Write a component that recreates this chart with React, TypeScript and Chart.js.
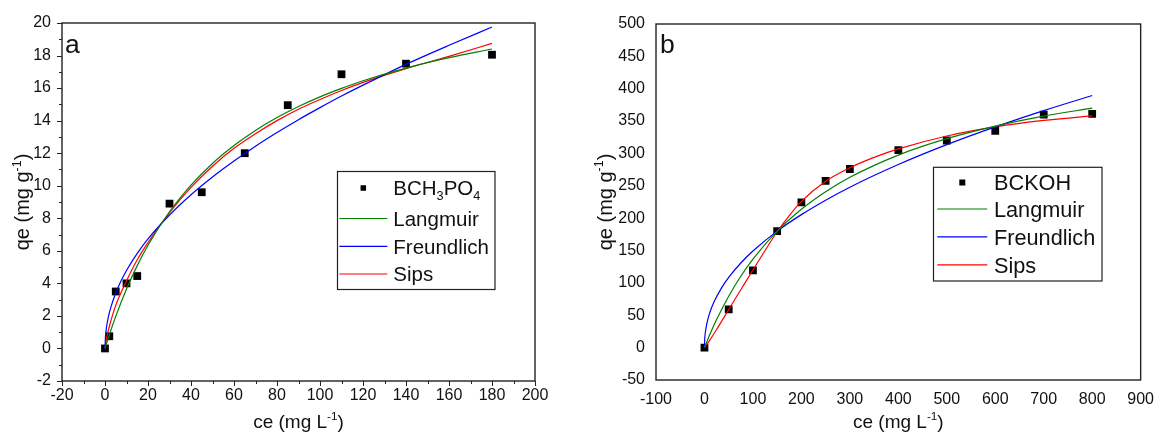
import React, { useEffect, useRef } from 'react';
import { Chart, registerables } from 'chart.js';

Chart.register(...registerables);

const FONT = '"Liberation Sans", Arial, Helvetica, sans-serif';
const GREEN = '#008000';
const BLUE = '#0000ff';
const RED = '#ff0000';
const INK = '#111111';

// ---------------- Panel a (BCH3PO4) ----------------
const A_X_RANGE = [-20, 200, 20, 10]; // min, max, major step, minor step
const A_Y_RANGE = [-2, 20, 2, 1];
const A_CE = [0, 2, 5, 10, 15, 30, 45, 65, 85, 110, 140, 180];
const A_QE = [0, 0.75, 3.5, 4.0, 4.45, 8.9, 9.6, 12.0, 14.95, 16.85, 17.5, 18.05];
const A_LANG_X = [0, 2, 5, 10, 15, 20, 30, 40, 50, 60, 70, 80, 90, 100, 110, 120, 140, 160, 180];
const A_LANG_Y = [0, 0.83, 1.97, 3.65, 5.09, 6.34, 8.4, 10.04, 11.37, 12.47, 13.4, 14.19, 14.87, 15.46, 15.98, 16.45, 17.23, 17.87, 18.4];
const A_FREU_X = [0, 0.2, 0.5, 1, 2, 3, 5, 7.5, 10, 15, 20, 30, 40, 50, 60, 70, 80, 90, 100, 110, 120, 140, 160, 180];
const A_FREU_Y = [0, 0.7, 1.1, 1.55, 2.18, 2.65, 3.41, 4.16, 4.79, 5.84, 6.73, 8.2, 9.45, 10.54, 11.52, 12.43, 13.27, 14.06, 14.8, 15.51, 16.18, 17.46, 18.63, 19.75];
const A_SIPS_X = [0, 1, 2, 5, 10, 15, 20, 30, 40, 50, 60, 70, 80, 90, 100, 110, 120, 140, 160, 180];
const A_SIPS_Y = [0, 0.8, 1.35, 2.65, 4.15, 5.45, 6.5, 8.35, 9.9, 11.2, 12.3, 13.2, 14.0, 14.7, 15.3, 15.85, 16.35, 17.2, 17.95, 18.75];

// ---------------- Panel b (BCKOH) ----------------
const B_X_RANGE = [-100, 900, 100, 50];
const B_Y_RANGE = [-50, 500, 50, 25];
const B_CE = [0, 50, 100, 150, 200, 250, 300, 400, 500, 600, 700, 800];
const B_QE = [0, 59, 119.5, 180, 224.5, 257.5, 276, 305, 320, 335, 360, 361];
const B_LANG_X = [0, 10, 25, 50, 75, 100, 150, 200, 250, 300, 400, 500, 600, 700, 800];
const B_LANG_Y = [0, 18.3, 43.3, 79.5, 110.3, 136.8, 180, 213.8, 240.9, 263.2, 297.5, 322.8, 342.2, 357.6, 370];
const B_FREU_X = [0, 0.5, 1, 2, 5, 10, 20, 35, 50, 75, 100, 150, 200, 250, 300, 400, 500, 600, 700, 800];
const B_FREU_Y = [0, 13, 17.9, 24.6, 37.5, 51.7, 71.1, 92, 108.5, 130.8, 149.3, 180, 205.5, 227.8, 247.9, 282.9, 313.6, 341, 366.2, 389.5];
const B_SIPS_X = [0, 10, 25, 50, 75, 100, 125, 150, 175, 200, 250, 300, 350, 400, 500, 600, 700, 800];
const B_SIPS_Y = [0, 10.5, 28, 59, 89.5, 120, 150, 179, 204, 226, 257, 278, 294, 307, 327, 341, 351, 358];

// ---------------- Text ----------------
type Seg = { t: string; s?: 'sub' | 'sup' };
const MODEL_NAMES = ['Langmuir', 'Freundlich', 'Sips'];
const MODEL_COLORS = [GREEN, BLUE, RED];
const A_SAMPLE: Seg[] = [{ t: 'BCH' }, { t: '3', s: 'sub' }, { t: 'PO' }, { t: '4', s: 'sub' }];
const B_SAMPLE: Seg[] = [{ t: 'BCKOH' }];
const X_TITLE: Seg[] = [{ t: 'ce (mg L' }, { t: '-1', s: 'sup' }, { t: ')' }];
const Y_TITLE: Seg[] = [{ t: 'qe (mg g' }, { t: '-1', s: 'sup' }, { t: ')' }];
const PANEL_LETTERS = ['a', 'b'];

const pts = (xs: number[], ys: number[]) => xs.map((x, i) => ({ x, y: ys[i] }));

function drawRich(ctx: CanvasRenderingContext2D, segs: Seg[], x: number, y: number, size: number, align: 'left' | 'center') {
  const small = size * 0.62;
  const fontFor = (s?: string) => `${s ? small : size}px ${FONT}`;
  let w = 0;
  for (const sg of segs) {
    ctx.font = fontFor(sg.s);
    w += ctx.measureText(sg.t).width;
  }
  let cx = align === 'center' ? x - w / 2 : x;
  ctx.textAlign = 'left';
  ctx.textBaseline = 'alphabetic';
  for (const sg of segs) {
    ctx.font = fontFor(sg.s);
    const dy = sg.s === 'sub' ? size * 0.21 : sg.s === 'sup' ? -size * 0.42 : 0;
    ctx.fillText(sg.t, cx, y + dy);
    cx += ctx.measureText(sg.t).width;
  }
}

const decorPlugin = {
  id: 'decor',
  afterDatasetsDraw(chart: any, _args: any, o: any) {
    const { ctx, chartArea: ca, scales } = chart;
    const xs = scales.x;
    const ys = scales.y;
    ctx.save();
    // frame
    ctx.strokeStyle = o.frameColor;
    ctx.lineWidth = o.frameWidth;
    ctx.strokeRect(ca.left, ca.top, ca.right - ca.left, ca.bottom - ca.top);

    // tick marks
    if (o.ticks) {
      const t = o.ticks;
      ctx.lineWidth = 1;
      ctx.strokeStyle = o.frameColor;
      const each = (rng: number[], fn: (v: number, major: boolean) => void) => {
        const [mn, mx, maj, mnr] = rng;
        const n = Math.round((mx - mn) / mnr);
        for (let i = 0; i <= n; i++) {
          const v = mn + i * mnr;
          const r = (v - mn) / maj;
          fn(v, Math.abs(r - Math.round(r)) < 1e-6);
        }
      };
      each(t.x, (v, major) => {
        const px = Math.round(xs.getPixelForValue(v)) + 0.5;
        ctx.beginPath();
        ctx.moveTo(px, ca.bottom);
        ctx.lineTo(px, ca.bottom + (major ? t.major : t.minor));
        ctx.stroke();
      });
      each(t.y, (v, major) => {
        const py = Math.round(ys.getPixelForValue(v)) + 0.5;
        ctx.beginPath();
        ctx.moveTo(ca.left, py);
        ctx.lineTo(ca.left - (major ? t.major : t.minor), py);
        ctx.stroke();
      });
    }

    ctx.fillStyle = INK;
    // axis titles
    drawRich(ctx, o.xTitle.segs, (ca.left + ca.right) / 2, o.xTitle.y, o.xTitle.size, 'center');
    ctx.save();
    ctx.translate(o.yTitle.x, (ca.top + ca.bottom) / 2);
    ctx.rotate(-Math.PI / 2);
    drawRich(ctx, o.yTitle.segs, 0, 0, o.yTitle.size, 'center');
    ctx.restore();

    // panel letter
    ctx.font = `${o.letter.size}px ${FONT}`;
    ctx.textAlign = 'left';
    ctx.textBaseline = 'alphabetic';
    ctx.fillText(o.letter.t, o.letter.x, o.letter.y);

    // legend
    const lg = o.legend;
    const [bl, bt, br, bb] = lg.box;
    ctx.fillStyle = '#ffffff';
    ctx.fillRect(bl, bt, br - bl, bb - bt);
    ctx.strokeStyle = '#222';
    ctx.lineWidth = 1.2;
    ctx.strokeRect(bl, bt, br - bl, bb - bt);
    for (const row of lg.rows) {
      if (row.kind === 'point') {
        ctx.fillStyle = '#000';
        const s = lg.marker;
        ctx.fillRect(lg.markerX - s / 2, row.y - s / 2, s, s);
      } else {
        ctx.strokeStyle = row.color;
        ctx.lineWidth = 1.2;
        ctx.beginPath();
        ctx.moveTo(lg.lineX[0], row.y);
        ctx.lineTo(lg.lineX[1], row.y);
        ctx.stroke();
      }
      ctx.fillStyle = INK;
      drawRich(ctx, row.segs, lg.textX, row.y + lg.size * 0.36, lg.size, 'left');
    }
    ctx.restore();
  },
};

interface PanelCfg {
  width: number;
  xr: number[];
  yr: number[];
  ce: number[];
  qe: number[];
  curves: { x: number[]; y: number[] }[];
  sample: Seg[];
  area: { left: number; top: number; right: number; bottom: number };
  yLabelPad: number;
  xLabelPad: number;
  ticks: any;
  letter: any;
  yTitleX: number;
  legend: any;
}

function buildConfig(p: PanelCfg): any {
  const curveSets = p.curves.map((c, i) => ({
    label: MODEL_NAMES[i],
    data: pts(c.x, c.y),
    showLine: true,
    borderColor: MODEL_COLORS[i],
    backgroundColor: MODEL_COLORS[i],
    borderWidth: 1.2,
    pointRadius: 0,
    pointHoverRadius: 0,
    cubicInterpolationMode: 'monotone',
    fill: false,
    order: 0,
  }));
  const tickFont = { family: FONT, size: 16 };
  return {
    type: 'scatter',
    data: {
      datasets: [
        ...curveSets,
        {
          label: 'sample',
          data: pts(p.ce, p.qe),
          showLine: false,
          pointStyle: 'rect',
          pointRadius: 5.5,
          pointBackgroundColor: '#000',
          pointBorderColor: '#000',
          pointBorderWidth: 0,
          order: 1,
        },
      ],
    },
    options: {
      animation: false,
      responsive: false,
      devicePixelRatio: 1,
      events: [],
      layout: {
        padding: { left: 0, top: p.area.top, right: p.width - p.area.right, bottom: 0 },
      },
      plugins: {
        legend: { display: false },
        tooltip: { enabled: false },
        decor: {
          frameColor: '#222',
          frameWidth: 1.4,
          ticks: p.ticks,
          xTitle: { segs: X_TITLE, y: 428, size: 19 },
          yTitle: { segs: Y_TITLE, x: p.yTitleX, size: 20 },
          letter: p.letter,
          legend: p.legend,
        },
      },
      scales: {
        x: {
          type: 'linear',
          min: p.xr[0],
          max: p.xr[1],
          ticks: { stepSize: p.xr[2], font: tickFont, color: INK, padding: p.xLabelPad, maxRotation: 0, autoSkip: false },
          grid: { display: false, drawTicks: false },
          border: { display: false },
          afterFit: (s: any) => { s.height = 432 - p.area.bottom; },
        },
        y: {
          type: 'linear',
          min: p.yr[0],
          max: p.yr[1],
          ticks: { stepSize: p.yr[2], font: tickFont, color: INK, padding: p.yLabelPad, autoSkip: false },
          grid: { display: false, drawTicks: false },
          border: { display: false },
          afterFit: (s: any) => { s.width = p.area.left; },
        },
      },
    },
    plugins: [decorPlugin],
  };
}

const legendRows = (sample: Seg[], ys: number[]) => [
  { kind: 'point', y: ys[0], segs: sample },
  ...MODEL_NAMES.map((n, i) => ({ kind: 'line', color: MODEL_COLORS[i], y: ys[i + 1], segs: [{ t: n }] })),
];

const PANEL_A: PanelCfg = {
  width: 580,
  xr: A_X_RANGE,
  yr: A_Y_RANGE,
  ce: A_CE,
  qe: A_QE,
  curves: [
    { x: A_LANG_X, y: A_LANG_Y },
    { x: A_FREU_X, y: A_FREU_Y },
    { x: A_SIPS_X, y: A_SIPS_Y },
  ],
  sample: A_SAMPLE,
  area: { left: 62, top: 23, right: 535, bottom: 381 },
  yLabelPad: 11,
  xLabelPad: 5,
  ticks: { x: A_X_RANGE, y: A_Y_RANGE, major: 5, minor: 3 },
  letter: { t: PANEL_LETTERS[0], x: 65, y: 53, size: 26.5 },
  yTitleX: 29,
  legend: {
    box: [337.5, 171.5, 495, 289.5],
    marker: 5.5,
    markerX: 363.3,
    lineX: [339.3, 387.3],
    textX: 393.3,
    size: 20.5,
    rows: legendRows(A_SAMPLE, [188, 218.5, 246.3, 274]),
  },
};

const PANEL_B: PanelCfg = {
  width: 584,
  xr: B_X_RANGE,
  yr: B_Y_RANGE,
  ce: B_CE,
  qe: B_QE,
  curves: [
    { x: B_LANG_X, y: B_LANG_Y },
    { x: B_FREU_X, y: B_FREU_Y },
    { x: B_SIPS_X, y: B_SIPS_Y },
  ],
  sample: B_SAMPLE,
  area: { left: 76, top: 24, right: 567, bottom: 380 },
  yLabelPad: 11,
  xLabelPad: 10,
  ticks: null,
  letter: { t: PANEL_LETTERS[1], x: 80, y: 52.7, size: 26.5 },
  yTitleX: 31.5,
  legend: {
    box: [353.5, 167.3, 522, 281],
    marker: 6,
    markerX: 382.3,
    lineX: [357.3, 407.3],
    textX: 414,
    size: 21.7,
    rows: legendRows(B_SAMPLE, [182.5, 209, 236.8, 264.8]),
  },
};

function Panel({ cfg, left }: { cfg: PanelCfg; left: number }) {
  const ref = useRef<HTMLCanvasElement>(null);
  useEffect(() => {
    const chart = new Chart(ref.current as HTMLCanvasElement, buildConfig(cfg));
    return () => chart.destroy();
  }, [cfg]);
  return (
    <canvas
      ref={ref}
      width={cfg.width}
      height={432}
      style={{ position: 'absolute', left, top: 0, width: cfg.width, height: 432 }}
    />
  );
}

export default function App() {
  return (
    <div style={{ position: 'absolute', left: 0, top: 0, width: 1164, height: 432, background: '#fff', overflow: 'hidden' }}>
      <Panel cfg={PANEL_A} left={0} />
      <Panel cfg={PANEL_B} left={580} />
    </div>
  );
}
